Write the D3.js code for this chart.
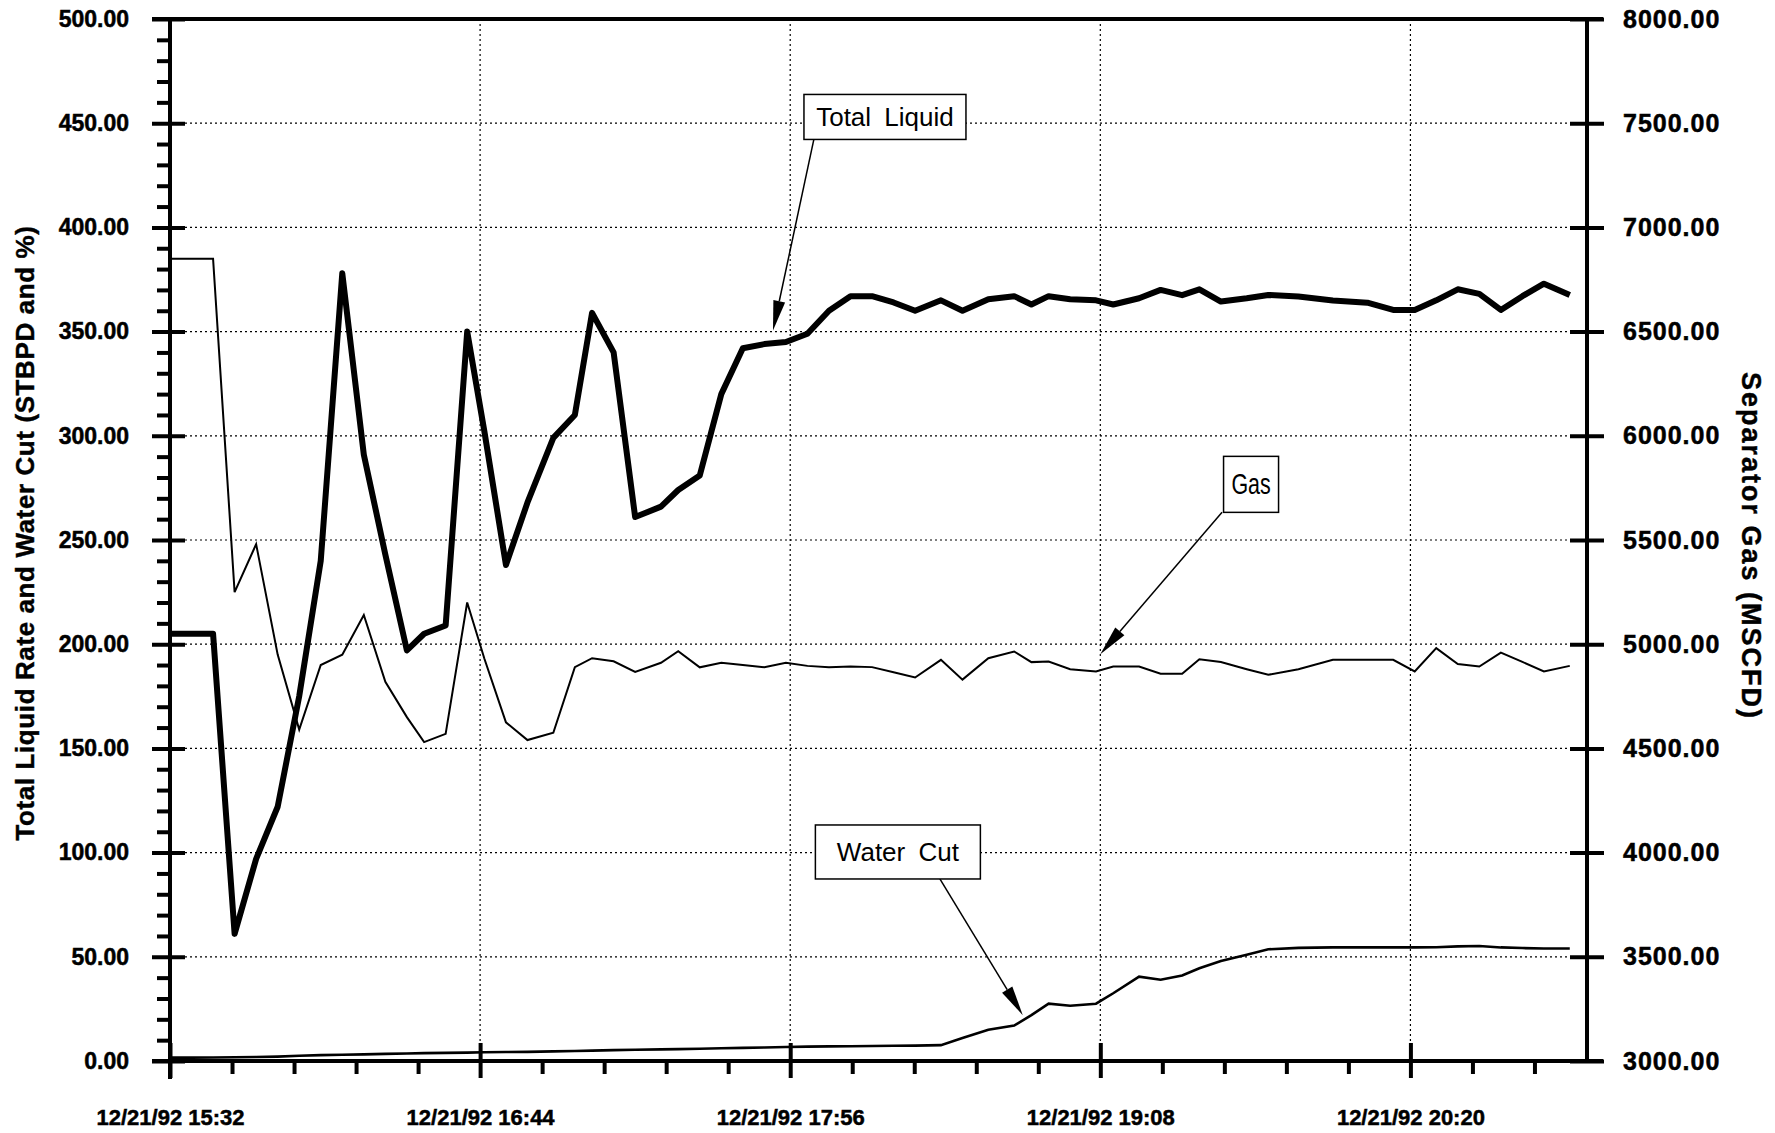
<!DOCTYPE html>
<html>
<head>
<meta charset="utf-8">
<script src="https://cdn.jsdelivr.net/npm/d3@7"></script>
<style>
  body { margin: 0; background: #fff; }
  svg text { font-family: "Liberation Sans", Arial, Helvetica, sans-serif; fill: #000; }
  .axis path { display: none; }
  .axis line { stroke: #000; stroke-width: 4; }
  .axis text { font-weight: bold; font-size: 23px; stroke: #000; stroke-width: 0.5px; }
  .right-axis text { font-size: 25px; letter-spacing: 1px; }
  .x-axis text { font-size: 22px; }
  .grid line { stroke: #000; stroke-width: 1.2; stroke-dasharray: 2,3; }
  .frame { stroke: #000; stroke-width: 4; }
  .axis-title { font-weight: bold; stroke: #000; stroke-width: 0.4px; }
  .note rect { fill: #fff; stroke: #000; stroke-width: 1.5; }
  .note text { font-size: 26px; }
  .note line { stroke: #000; stroke-width: 1.5; }
</style>
</head>
<body>
<svg id="chart"></svg>
<script>
// Test date and sampling times (12/21/92)
const testDate = '12/21/92';
const sampleTimes = [
  '15:32', '15:37', '15:42', '15:47', '15:52', '15:57', '16:02', '16:07',
  '16:12', '16:17', '16:22', '16:27', '16:31', '16:36', '16:41', '16:45',
  '16:50', '16:55', '17:01', '17:06', '17:10', '17:15', '17:20', '17:26',
  '17:30', '17:35', '17:40', '17:45', '17:50', '17:55', '18:00', '18:05',
  '18:10', '18:15', '18:20', '18:25', '18:31', '18:36', '18:42', '18:48',
  '18:52', '18:56', '19:01', '19:07', '19:11', '19:17', '19:22', '19:27',
  '19:31', '19:36', '19:42', '19:47', '19:54', '20:02', '20:10', '20:16',
  '20:21', '20:26', '20:31', '20:36', '20:41', '20:46', '20:51', '20:57'
];

// Total liquid rate (STBPD)
const totalLiquid = [
  205, 205, 205, 61, 97, 122, 175, 240,
  378, 291, 243, 197, 205, 209, 350, 302,
  238, 268, 299, 310, 359, 340, 261, 266,
  274, 281, 320, 342, 344, 345, 349, 360,
  367, 367, 364, 360, 365, 360, 365.5, 367,
  363, 367, 365.5, 365, 363, 366, 370, 367.5,
  370.3, 364.4, 366, 367.6, 366.8, 364.9, 363.9, 360.4,
  360.4, 365, 370.3, 368.1, 360.4, 367, 373, 367.6
];

// Water cut (%)
const waterCut = [
  1.6, 1.6, 1.7, 1.8, 1.9, 2.1, 2.5, 2.8,
  3.0, 3.2, 3.4, 3.6, 3.8, 3.9, 4.0, 4.2,
  4.3, 4.4, 4.6, 4.8, 5.0, 5.2, 5.4, 5.6,
  5.7, 5.9, 6.1, 6.3, 6.5, 6.7, 6.9, 7.0,
  7.1, 7.2, 7.3, 7.4, 7.6, 11, 15, 17,
  22, 27.5, 26.5, 27.5, 32.5, 40.5, 39, 41,
  44.5, 48, 51, 53.6, 54.3, 54.5, 54.5, 54.5,
  54.5, 54.6, 55, 55.2, 54.5, 54.2, 54, 54
];

// Separator gas (MSCFD), right axis
const separatorGas = [
  6850, 6850, 6850, 5250, 5480, 4950, 4590, 4900,
  4950, 5140, 4820, 4650, 4530, 4570, 5200, 4930,
  4625, 4540, 4575, 4890, 4933, 4918, 4867, 4911,
  4966, 4889, 4911, 4900, 4889, 4911, 4896, 4889,
  4893, 4890, 4865, 4840, 4925, 4830, 4933, 4965,
  4914, 4917, 4880, 4869, 4893, 4893, 4858, 4858,
  4928, 4915, 4880, 4853, 4880, 4925, 4925, 4925,
  4869, 4981, 4905, 4893, 4960, 4915, 4869, 4896
];

// Axis ticks
const leftTicks = [0, 50, 100, 150, 200, 250, 300, 350, 400, 450, 500];
const rightTicks = [3000, 3500, 4000, 4500, 5000, 5500, 6000, 6500, 7000, 7500, 8000];
const timeTicks = ['15:32', '16:44', '17:56', '19:08', '20:20'];
const timeDomain = ['15:32', '21:01'];

// Callout labels (box centre and arrow tip in data units)
const noteTexts = ['Total Liquid', 'Gas', 'Water Cut'];
const noteAxes = ['left', 'right', 'left'];
const noteBoxTimes = ['18:18', '19:43', '18:21'];
const noteBoxValues = [453, 5767, 100.3];
const noteTipTimes = ['17:52', '19:08', '18:50'];
const noteTipValues = [350.5, 4952, 22];

class WellTestChart {
    constructor(_config) {
        this.config = {
            parentElement: _config.parentElement,
            width: 1775,
            height: 1133,
            plot: {left: 170, right: 1587, top: 19, bottom: 1061}
        };
        this.parseTime = d3.timeParse('%m/%d/%y %H:%M');
        this.data = sampleTimes.map((t, i) => ({
            date: this.parseTime(`${testDate} ${t}`),
            liquid: totalLiquid[i],
            water: waterCut[i],
            gas: separatorGas[i]
        }));
        this.initVis();
    }

    initVis() {
        let vis = this;
        const p = vis.config.plot;

        vis.svg = d3.select(vis.config.parentElement)
            .attr('width', vis.config.width)
            .attr('height', vis.config.height);

        vis.xScale = d3.scaleTime()
            .domain(timeDomain.map(t => vis.parseTime(`${testDate} ${t}`)))
            .range([p.left, p.right]);
        vis.yLeft = d3.scaleLinear().domain([0, 500]).range([p.bottom, p.top]);
        vis.yRight = d3.scaleLinear().domain([3000, 8000]).range([p.bottom, p.top]);

        vis.gridG = vis.svg.append('g').attr('class', 'grid');
        vis.lineG = vis.svg.append('g');
        vis.axisG = vis.svg.append('g');
        vis.noteG = vis.svg.append('g');

        vis.renderVis();
    }

    renderVis() {
        let vis = this;
        const p = vis.config.plot;
        const tickDates = timeTicks.map(t => vis.parseTime(`${testDate} ${t}`));
        const start = tickDates[0];

        // dotted grid
        vis.gridG.selectAll('.h-grid')
            .data(leftTicks.slice(1, -1))
            .join('line')
            .attr('class', 'h-grid')
            .attr('x1', p.left).attr('x2', p.right)
            .attr('y1', d => vis.yLeft(d)).attr('y2', d => vis.yLeft(d));
        vis.gridG.selectAll('.v-grid')
            .data(tickDates.slice(1))
            .join('line')
            .attr('class', 'v-grid')
            .attr('x1', d => vis.xScale(d)).attr('x2', d => vis.xScale(d))
            .attr('y1', p.top).attr('y2', p.bottom);

        // series
        const liquidLine = d3.line().x(d => vis.xScale(d.date)).y(d => vis.yLeft(d.liquid));
        const waterLine = d3.line().x(d => vis.xScale(d.date)).y(d => vis.yLeft(d.water));
        const gasLine = d3.line().x(d => vis.xScale(d.date)).y(d => vis.yRight(d.gas));

        vis.lineG.append('path').datum(vis.data)
            .attr('d', gasLine).attr('fill', 'none')
            .attr('stroke', '#000').attr('stroke-width', 2);
        vis.lineG.append('path').datum(vis.data)
            .attr('d', waterLine).attr('fill', 'none')
            .attr('stroke', '#000').attr('stroke-width', 2.6);
        vis.lineG.append('path').datum(vis.data)
            .attr('d', liquidLine).attr('fill', 'none')
            .attr('stroke', '#000').attr('stroke-width', 6)
            .attr('stroke-linejoin', 'round');

        // frame lines
        vis.axisG.append('line').attr('class', 'frame')
            .attr('x1', p.left - 18).attr('x2', p.right + 16)
            .attr('y1', p.top).attr('y2', p.top);
        vis.axisG.append('line').attr('class', 'frame')
            .attr('x1', p.left - 18).attr('x2', p.right + 16)
            .attr('y1', p.bottom).attr('y2', p.bottom);
        vis.axisG.append('line').attr('class', 'frame')
            .attr('x1', p.left).attr('x2', p.left)
            .attr('y1', p.top).attr('y2', p.bottom + 18);
        vis.axisG.append('line').attr('class', 'frame')
            .attr('x1', p.right).attr('x2', p.right)
            .attr('y1', p.top).attr('y2', p.bottom);

        // left axis: majors cross the spine, minors on the outside
        const fmt = d3.format('.2f');
        vis.axisG.append('g')
            .attr('class', 'axis left-axis')
            .attr('transform', `translate(${p.left},0)`)
            .call(d3.axisLeft(vis.yLeft).tickValues(leftTicks).tickSize(18).tickPadding(23).tickFormat(fmt))
            .selectAll('.tick line').attr('x1', 15);
        vis.axisG.append('g')
            .attr('class', 'axis')
            .attr('transform', `translate(${p.left},0)`)
            .call(d3.axisLeft(vis.yLeft)
                .tickValues(d3.range(10, 500, 10).filter(v => v % 50 !== 0))
                .tickSize(13).tickFormat(''));

        // right axis
        vis.axisG.append('g')
            .attr('class', 'axis right-axis')
            .attr('transform', `translate(${p.right},0)`)
            .call(d3.axisRight(vis.yRight).tickValues(rightTicks).tickSize(17).tickPadding(19).tickFormat(fmt))
            .selectAll('.tick line').attr('x1', -17);

        // bottom axis
        const xFmt = d3.timeFormat('%m/%d/%y %H:%M');
        vis.axisG.append('g')
            .attr('class', 'axis x-axis')
            .attr('transform', `translate(0,${p.bottom})`)
            .call(d3.axisBottom(vis.xScale).tickValues(tickDates).tickSize(17).tickPadding(31).tickFormat(xFmt))
            .selectAll('.tick line').attr('y1', -18);
        const minorDates = d3.range(1, 23).filter(i => i % 5 !== 0)
            .map(i => d3.timeSecond.offset(start, Math.round(i * 14.4 * 60)));
        vis.axisG.append('g')
            .attr('class', 'axis')
            .attr('transform', `translate(0,${p.bottom})`)
            .call(d3.axisBottom(vis.xScale).tickValues(minorDates).tickSize(13).tickFormat(''));

        // axis titles
        vis.svg.append('text')
            .attr('class', 'axis-title')
            .attr('transform', 'translate(34,533) rotate(-90)')
            .attr('text-anchor', 'middle')
            .style('font-size', '26px')
            .style('letter-spacing', '0.6px')
            .text('Total Liquid Rate and Water Cut (STBPD and %)');
        vis.svg.append('text')
            .attr('class', 'axis-title')
            .attr('transform', 'translate(1742,546) rotate(90)')
            .attr('text-anchor', 'middle')
            .style('font-size', '27px')
            .style('letter-spacing', '2px')
            .text('Separator Gas (MSCFD)');

        vis.renderNotes();
    }

    renderNotes() {
        let vis = this;
        const boxSizes = [[162, 45], [55, 56], [165, 54]];
        const tails = [[-71, 22], [-29, 28], [42, 27]];

        noteTexts.forEach((label, i) => {
            const yScale = noteAxes[i] === 'left' ? vis.yLeft : vis.yRight;
            const cx = vis.xScale(vis.parseTime(`${testDate} ${noteBoxTimes[i]}`));
            const cy = yScale(noteBoxValues[i]);
            const tx = vis.xScale(vis.parseTime(`${testDate} ${noteTipTimes[i]}`));
            const ty = yScale(noteTipValues[i]);
            const [w, h] = boxSizes[i];
            const g = vis.noteG.append('g').attr('class', 'note');

            // arrow shaft and head
            const x0 = cx + tails[i][0], y0 = cy + tails[i][1];
            const ang = Math.atan2(ty - y0, tx - x0);
            const headLen = 30, half = 6;
            const bx = tx - headLen * Math.cos(ang), by = ty - headLen * Math.sin(ang);
            g.append('line').attr('x1', x0).attr('y1', y0).attr('x2', bx).attr('y2', by);
            g.append('polygon')
                .attr('points', [
                    [tx, ty],
                    [bx + half * Math.sin(ang), by - half * Math.cos(ang)],
                    [bx - half * Math.sin(ang), by + half * Math.cos(ang)]
                ].map(d => d.join(',')).join(' '))
                .attr('fill', '#000');

            g.append('rect')
                .attr('x', cx - w / 2).attr('y', cy - h / 2)
                .attr('width', w).attr('height', h);
            const txt = g.append('text')
                .attr('x', cx).attr('y', cy + 9)
                .attr('text-anchor', 'middle')
                .style('word-spacing', '6px')
                .text(label);
            if (label === 'Gas') {
                txt.style('font-size', '29px')
                    .attr('y', cy + 10)
                    .attr('transform', `translate(${cx},0) scale(0.74,1) translate(${-cx},0)`);
            }
        });
    }
}

new WellTestChart({parentElement: '#chart'});
</script>
</body>
</html>
